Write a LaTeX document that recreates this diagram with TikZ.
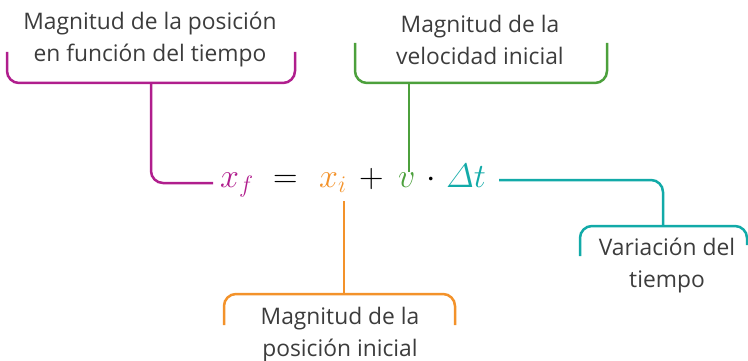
\RequirePackage{fix-cm}
\documentclass[tikz,border=0pt]{standalone}
\usepackage{amsmath}
\usepackage{fontspec}
\setmainfont{Open Sans}
\usepackage{tikz}
\usetikzlibrary{positioning,calc}
\definecolor{posMag}{RGB}{176,30,141}
\definecolor{velGreen}{RGB}{76,160,60}
\definecolor{iniOrange}{RGB}{243,146,42}
\definecolor{timeTeal}{RGB}{18,170,168}
\definecolor{labelGray}{RGB}{60,60,60}
\newcommand{\eqfont}{\fontsize{34}{40}\selectfont}
\tikzset{
  labeltext/.style={align=center,text=labelGray,inner sep=0pt,
    font=\fontsize{22.8}{32}\selectfont},
  eqpart/.style={inner sep=0pt,anchor=base west,font=\eqfont},
  bracket/.style={line width=2.5pt,rounded corners=12pt},
}

\begin{document}
\begin{tikzpicture}[x=1pt,y=-1pt]
  \useasboundingbox (0,0) rectangle (748,361);

  % the equation
  \node[eqpart,text=posMag] (xf) at (220,187) {$x_f$};
  \node[eqpart] (eq) at (273,187) {$=$};
  \node[eqpart,text=iniOrange] (xi) at (319,187) {$x_i$};
  \node[eqpart] (plus) at (359,187) {$+$};
  \node[eqpart,text=velGreen] (v) at (398,187) {$v$};
  \node[eqpart] (dot) at (426,187) {$\cdot$};
  \node[eqpart,text=timeTeal] (dt) at (446,187) {$\varDelta t$};

  % labels
  \node[labeltext] (posfun) at (150,40) {Magnitud de la posición\\en función del tiempo};
  \node[labeltext] (velini) at (480,40) {Magnitud de la\\velocidad inicial};
  \node[labeltext] (posini) at (340,335) {Magnitud de la\\posición inicial};
  \node[labeltext] (vartime) at (667,266) {Variación del\\tiempo};

  % magenta: position as function of time
  \draw[bracket,posMag] (7,52) -- (7,83) -- (295,83) -- (295,52);
  \coordinate (magstem) at (151,83);
  \draw[bracket,posMag] (magstem) |- ([xshift=-7pt,yshift=4pt]xf.base west);

  % green: initial velocity
  \draw[bracket,velGreen] (355,43) -- (355,83) -- (607,83) -- (607,43);
  \coordinate (greenstem) at (409,83);
  \draw[line width=2.5pt,velGreen] (greenstem) -- (greenstem |- v.north);

  % orange: initial position
  \draw[bracket,iniOrange] (224,325) -- (224,294) -- (455,294) -- (455,325);
  \coordinate (orangestem) at (344,294);
  \draw[line width=2.5pt,iniOrange] ([yshift=-9pt]orangestem |- xi.south) -- (orangestem);

  % teal: time interval
  \draw[bracket,timeTeal] (580,256) -- (580,226) -- (747,226) -- (747,245);
  \coordinate (tealstem) at (663,226);
  \draw[bracket,timeTeal] ([xshift=13pt,yshift=7pt]dt.base east) -| (tealstem);
\end{tikzpicture}
\end{document}
